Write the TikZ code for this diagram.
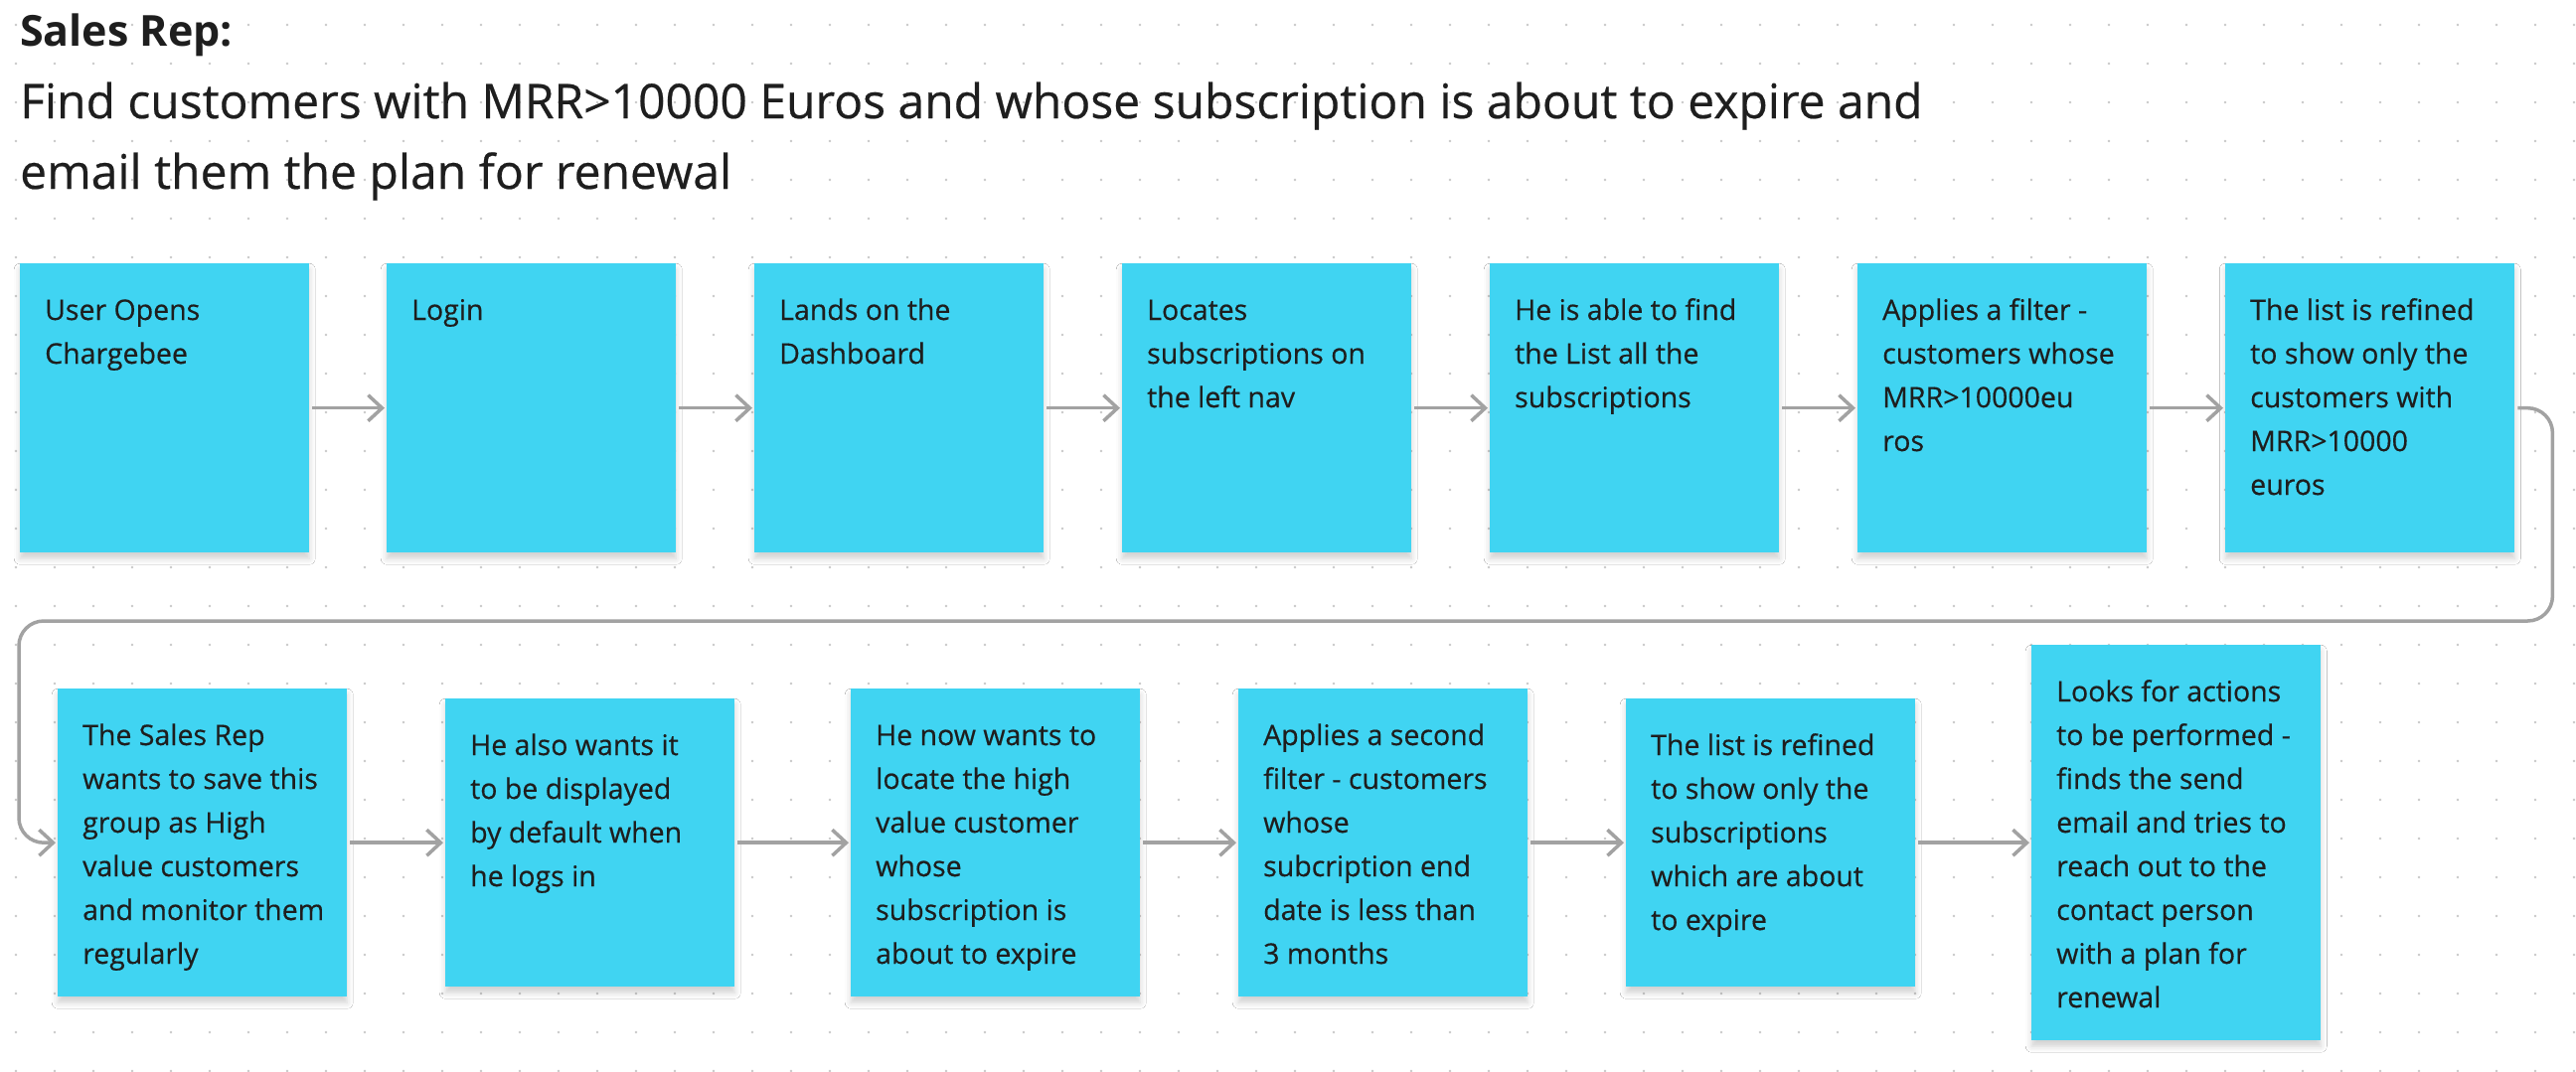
\documentclass[tikz,border=0pt]{standalone}
\usepackage{fontspec}
\setmainfont{Open Sans}
\newfontfamily\medfont{Open Sans}[FakeBold=0.45]
\usetikzlibrary{arrows.meta,shadows.blur}
\definecolor{stickyc}{HTML}{40D4F2}
\definecolor{ink}{HTML}{1E1E1E}
\definecolor{conn}{HTML}{A2A2A2}
\definecolor{dotc}{HTML}{C8C8C8}
\begin{document}
\begin{tikzpicture}[x=1pt,y=-1pt,
  sticky/.style={fill=stickyc, draw=none, inner sep=0pt, minimum width=291pt, anchor=north west,
    blur shadow={shadow xshift=0pt, shadow yshift=-6pt, shadow blur radius=6pt, shadow opacity=18}},
  note/.style={anchor=north west, inner sep=0pt, align=left, text=ink, font=\medfont\fontsize{28.5}{44}\selectfont},
  heading/.style={anchor=base west, inner sep=0pt, text=ink, font=\medfont\fontsize{48}{56}\selectfont},
  flow/.style={draw=conn, line width=3.5pt, shorten <=3pt, shorten >=2pt,
    -{Straight Barb[length=14pt,width=26pt,line width=3.5pt]}},
]
\path[use as bounding box] (0,0) rectangle (2592,1079);
\fill[white] (0,0) rectangle (2592,1079);
\foreach \i in {0,...,66}{
  \foreach \j in {0,...,27}{
    \fill[dotc] ({16+39*\i},{25+39*\j}) circle (1.3pt);
  }
}
% heading
\node[heading, font=\bfseries\fontsize{43}{56}\selectfont] (title) at (20,46) {Sales Rep:};
\node[heading] (sub1) at (20,119) {Find customers with MRR>10000 Euros and whose subscription is about to expire and};
\node[heading] (sub2) at (20,190) {email them the plan for renewal};
% row 1
\node[sticky, minimum height=291pt] (b1) at (20,265) {};
\node[sticky, minimum height=291pt] (b2) at (389,265) {};
\node[sticky, minimum height=291pt] (b3) at (759,265) {};
\node[sticky, minimum height=291pt] (b4) at (1129,265) {};
\node[sticky, minimum height=291pt] (b5) at (1499,265) {};
\node[sticky, minimum height=291pt] (b6) at (1869,265) {};
\node[sticky, minimum height=291pt] (b7) at (2239,265) {};
% row 2
\node[sticky, minimum height=310pt] (b8) at (58,693) {};
\node[sticky, minimum height=290pt] (b9) at (448,703) {};
\node[sticky, minimum height=310pt] (b10) at (856,693) {};
\node[sticky, minimum height=310pt] (b11) at (1246,693) {};
\node[sticky, minimum height=290pt] (b12) at (1636,703) {};
\node[sticky, minimum height=398pt] (b13) at (2044,649) {};
% texts
\node[note] (t1) at (45,291) {\strut User Opens\\Chargebee};
\node[note] (t2) at (414,291) {\strut Login};
\node[note] (t3) at (784,291) {\strut Lands on the\\Dashboard};
\node[note] (t4) at (1154,291) {\strut Locates\\subscriptions on\\the left nav};
\node[note] (t5) at (1524,291) {\strut He is able to find\\the List all the\\subscriptions};
\node[note] (t6) at (1894,291) {\strut Applies a filter -\\customers whose\\MRR>10000eu\\ros};
\node[note] (t7) at (2264,291) {\strut The list is refined\\to show only the\\customers with\\MRR>10000\\euros};
\node[note] (t8) at (83,719) {\strut The Sales Rep\\wants to save this\\group as High\\value customers\\and monitor them\\regularly};
\node[note] (t9) at (473,729) {\strut He also wants it\\to be displayed\\by default when\\he logs in};
\node[note] (t10) at (881,719) {\strut He now wants to\\locate the high\\value customer\\whose\\subscription is\\about to expire};
\node[note] (t11) at (1271,719) {\strut Applies a second\\filter - customers\\whose\\subcription end\\date is less than\\3 months};
\node[note] (t12) at (1661,729) {\strut The list is refined\\to show only the\\subscriptions\\which are about\\to expire};
\node[note] (t13) at (2069,675) {\strut Looks for actions\\to be performed -\\finds the send\\email and tries to\\reach out to the\\contact person\\with a plan for\\renewal};
% connectors
\draw[flow] (b1) -- (b2);
\draw[flow] (b2) -- (b3);
\draw[flow] (b3) -- (b4);
\draw[flow] (b4) -- (b5);
\draw[flow] (b5) -- (b6);
\draw[flow] (b6) -- (b7);
\draw[flow, rounded corners=25pt] (b7.east) -- ++(38,0) |- (19,625) |- (b8.west);
\draw[flow] (b8.east) -- (b9.west);
\draw[flow] (b9.east) -- (b10.west);
\draw[flow] (b10.east) -- (b11.west);
\draw[flow] (b11.east) -- (b12.west);
\draw[flow] (b12.east) -- (b13.west);
\end{tikzpicture}
\end{document}
